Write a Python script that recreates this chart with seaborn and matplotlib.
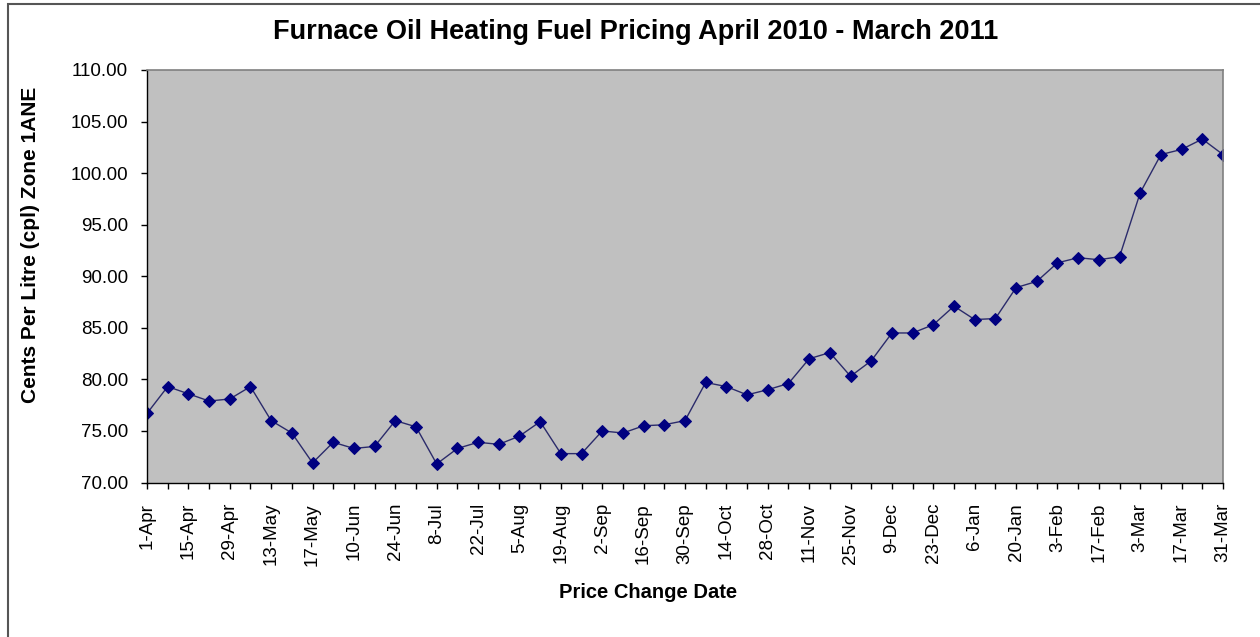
import numpy as np
import pandas as pd
import matplotlib
matplotlib.use("Agg")
import matplotlib.pyplot as plt
from matplotlib.patches import Rectangle
import seaborn as sns

dates = ["1-Apr", "8-Apr", "15-Apr", "22-Apr", "29-Apr", "6-May", "13-May", "14-May",
         "17-May", "27-May", "10-Jun", "17-Jun", "24-Jun", "1-Jul", "8-Jul", "15-Jul",
         "22-Jul", "29-Jul", "5-Aug", "12-Aug", "19-Aug", "26-Aug", "2-Sep", "9-Sep",
         "16-Sep", "23-Sep", "30-Sep", "7-Oct", "14-Oct", "21-Oct", "28-Oct", "4-Nov",
         "11-Nov", "18-Nov", "25-Nov", "2-Dec", "9-Dec", "16-Dec", "23-Dec", "30-Dec",
         "6-Jan", "13-Jan", "20-Jan", "27-Jan", "3-Feb", "10-Feb", "17-Feb", "24-Feb",
         "3-Mar", "10-Mar", "17-Mar", "24-Mar", "31-Mar"]

prices = [76.7, 79.3, 78.6, 77.9, 78.1, 79.3, 76.0, 74.8,
          71.9, 73.9, 73.3, 73.5, 76.0, 75.4, 71.8, 73.3,
          73.9, 73.7, 74.5, 75.9, 72.8, 72.8, 75.0, 74.8,
          75.5, 75.6, 76.0, 79.7, 79.3, 78.5, 79.0, 79.6,
          82.0, 82.6, 80.3, 81.8, 84.5, 84.5, 85.3, 87.1,
          85.8, 85.9, 88.9, 89.5, 91.3, 91.8, 91.6, 91.9,
          98.1, 101.8, 102.3, 103.3, 101.8]

y_ticks = [70, 75, 80, 85, 90, 95, 100, 105, 110]

title = "Furnace Oil Heating Fuel Pricing April 2010 - March 2011"
x_label = "Price Change Date"
y_label = "Cents Per Litre (cpl) Zone 1ANE"

df = pd.DataFrame({"pos": np.arange(len(dates)), "date": dates, "price": prices})

sns.set_style("white")
plt.rcParams["font.family"] = ["Liberation Sans", "DejaVu Sans"]
plt.rcParams["text.color"] = "black"
plt.rcParams["axes.labelcolor"] = "black"

W, H = 1260, 637
L, R, T, B = 147, 1223, 70, 482.5

fig = plt.figure(figsize=(12.6, 6.37), dpi=100)
ax = fig.add_axes([L / W, 1 - B / H, (R - L) / W, (B - T) / H])

sns.lineplot(data=df, x="pos", y="price", ax=ax, color="#000080", linewidth=1.0,
             marker="D", markersize=5.8, markeredgecolor="#000080",
             markerfacecolor="#000080", sort=False)
ax.lines[0].set_color("#2b2b6b")
ax.lines[0].set_markerfacecolor("#000080")
ax.lines[0].set_markeredgecolor("#000080")

ax.set_facecolor("#C0C0C0")
ax.set_xlim(0, len(dates) - 1)
ax.set_ylim(y_ticks[0], y_ticks[-1])
ax.set_yticks(y_ticks)
ax.set_yticklabels([f"{v:.2f}" for v in y_ticks], fontsize=13.5)
ax.set_xticks(df["pos"])
ax.set_xticklabels([d if i % 2 == 0 else "" for i, d in enumerate(dates)],
                   rotation=90, fontsize=13.5, ha="center", va="top")

ax.tick_params(axis="both", direction="out", length=4.2, width=1, color="black",
               left=True, bottom=True, labelcolor="black")
ax.tick_params(axis="y", pad=9.5)
ax.tick_params(axis="x", pad=10.5)

for side in ["top", "right"]:
    ax.spines[side].set_color("#808080")
    ax.spines[side].set_linewidth(1.2)
for side in ["left", "bottom"]:
    ax.spines[side].set_color("black")
    ax.spines[side].set_linewidth(1.0)
    ax.spines[side].set_visible(True)

ax.set_xlabel(x_label, fontsize=14.5, fontweight="bold", color="black")
ax.set_ylabel(y_label, fontsize=15, fontweight="bold", color="black")
ax.xaxis.label.set_va("center")
ax.xaxis.set_label_coords((648.5 - L) / (R - L), (B - 593) / (B - T))
ax.yaxis.set_label_coords((40 - L) / (R - L), (B - 245) / (B - T))

fig.text(636 / W, 1 - 32 / H, title, fontsize=19.5, fontweight="bold",
         ha="center", va="center", color="black")

border = Rectangle((8 / W, -0.05), 1.2, 1 - 4 / H + 0.05, transform=fig.transFigure,
                   fill=False, edgecolor="#555555", linewidth=1.5, clip_on=False)
fig.patches.append(border)

fig.savefig("out.png", dpi=100, facecolor="white")
